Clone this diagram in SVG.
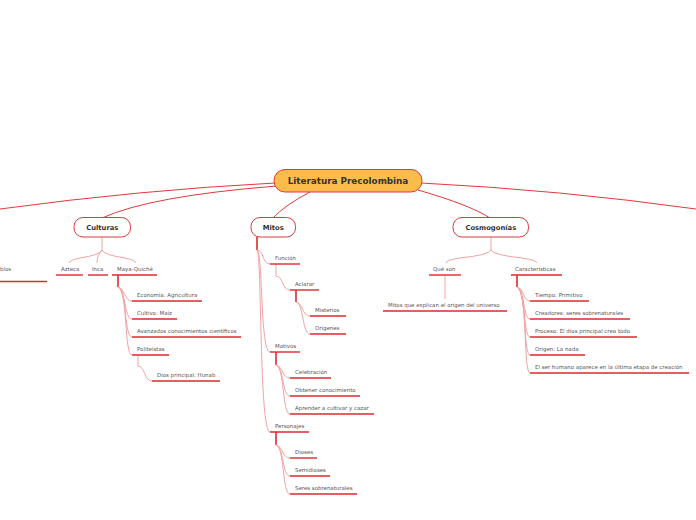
<svg xmlns="http://www.w3.org/2000/svg" width="696" height="520" viewBox="0 0 696 520">
<style>
.main{stroke:#e0393c;stroke-width:1;fill:none}
.thin{stroke:#f2a3a3;stroke-width:1;fill:none}
.bar{stroke:#dc2a2e;stroke-width:1.6;fill:none}
.ul{stroke:#dc2a2e;stroke-width:1.4}
.node{fill:#ffffff;stroke:#e0393c;stroke-width:1}
.t{font-family:"DejaVu Sans",Verdana,sans-serif;font-size:5.45px;fill:#555}
.nt{font-family:"DejaVu Sans",Verdana,sans-serif;font-size:6.8px;font-weight:bold;fill:#333;text-anchor:middle}
.ct{font-family:"DejaVu Sans",Verdana,sans-serif;font-size:8.8px;font-weight:bold;fill:#333;text-anchor:middle}
</style>
<g id="connectors">
<path class="main" d="M275,183 Q140,190 0,209"/>
<path class="main" d="M277,186 Q150,196 102,218"/>
<path class="main" d="M310,192 Q285,205 273,218"/>
<path class="main" d="M418,190 Q470,205 490,218"/>
<path class="main" d="M421,183 Q560,190 696,209"/>
<!-- Culturas -->
<path class="thin" d="M102,237 V250"/>
<path class="thin" d="M102,250 Q100,255 80,258 Q70,260 69,263"/>
<path class="thin" d="M102,250 Q97,255 97,263"/>
<path class="thin" d="M102,250 Q104,255 125,258 Q135,260 136,263"/>
<path class="bar" d="M118,275 V287"/>
<path class="thin" d="M118,287 C125,288 124,301 132,301"/>
<path class="thin" d="M118,287 C126,289 124,319 132,319"/>
<path class="thin" d="M118,287 C127,290 124,337 132,337"/>
<path class="thin" d="M118,287 C128,291 124,355 132,355"/>
<path class="thin" d="M138,355 V366 C145,366 144,381 152,381"/>
<!-- Mitos -->
<path class="bar" d="M257,237 V250"/>
<path class="thin" d="M257,250 C264,250 262,264 270,264"/>
<path class="thin" d="M257,250 C263,252 260,352 270,352"/>
<path class="thin" d="M257,250 C262,253 259,432 270,432"/>
<path class="thin" d="M276,264 V276 C283,276 282,290 290,290"/>
<path class="bar" d="M296,290 V302"/>
<path class="thin" d="M296,302 C303,303 302,316 310,316"/>
<path class="thin" d="M296,302 C304,304 302,334 310,334"/>
<path class="bar" d="M276,352 V365"/>
<path class="thin" d="M276,365 C283,366 282,378 290,378"/>
<path class="thin" d="M276,365 C284,367 282,396 290,396"/>
<path class="thin" d="M276,365 C285,368 282,414 290,414"/>
<path class="bar" d="M276,432 V445"/>
<path class="thin" d="M276,445 C283,446 282,458 290,458"/>
<path class="thin" d="M276,445 C284,447 282,476 290,476"/>
<path class="thin" d="M276,445 C285,448 282,494 290,494"/>
<!-- Cosmogonías -->
<path class="thin" d="M491,237 V250"/>
<path class="thin" d="M491,250 Q489,255 460,258 Q446,260 446,263"/>
<path class="thin" d="M491,250 Q493,255 522,258 Q536,260 537,263"/>
<path class="thin" d="M445,275 V299"/>
<path class="bar" d="M517,275 V287"/>
<path class="thin" d="M517,287 C524,288 523,301 530,301"/>
<path class="thin" d="M517,287 C525,289 523,319 530,319"/>
<path class="thin" d="M517,287 C526,290 523,337 530,337"/>
<path class="thin" d="M517,287 C527,291 523,355 530,355"/>
<path class="thin" d="M517,287 C528,292 523,373 530,373"/>
</g>
<g id="central">
<rect x="274" y="169.5" width="148" height="22.5" rx="11" fill="#fcbc4c" stroke="#e0393c" stroke-width="1"/>
<text class="ct" x="348" y="184.2">Literatura Precolombina</text>
</g>
<g id="culturas">
<rect class="node" x="74" y="217.5" width="56.5" height="19.5" rx="9"/>
<text class="nt" x="102.3" y="229.8">Culturas</text>
</g>
<g id="mitos">
<rect class="node" x="251" y="217.5" width="44.5" height="19.5" rx="9"/>
<text class="nt" x="273.3" y="229.8">Mitos</text>
</g>
<g id="cosmogonias">
<rect class="node" x="453" y="217.5" width="75.5" height="19.5" rx="9"/>
<text class="nt" x="490.8" y="229.8">Cosmogonías</text>
</g>
<g id="pueblos"><text class="t" x="0" y="271">blos</text><line class="ul" x1="0" y1="281.5" x2="47" y2="281.5"/></g>
<g id="azteca"><text class="t" x="61" y="271">Azteca</text><line class="ul" x1="56" y1="275" x2="83" y2="275"/></g>
<g id="inca"><text class="t" x="92" y="271">Inca</text><line class="ul" x1="88" y1="275" x2="108" y2="275"/></g>
<g id="maya"><text class="t" x="117" y="271">Maya-Quiché</text><line class="ul" x1="112" y1="275" x2="157" y2="275"/></g>
<g id="economia"><text class="t" x="137" y="297">Economía: Agricultura</text><line class="ul" x1="132" y1="301" x2="202" y2="301"/></g>
<g id="cultivo"><text class="t" x="137" y="315">Cultivo: Maíz</text><line class="ul" x1="132" y1="319" x2="177" y2="319"/></g>
<g id="avanzados"><text class="t" x="137" y="333">Avanzados conocimientos científicos</text><line class="ul" x1="132" y1="337" x2="241" y2="337"/></g>
<g id="politeistas"><text class="t" x="137" y="351">Politeístas</text><line class="ul" x1="132" y1="355" x2="169" y2="355"/></g>
<g id="hunab"><text class="t" x="157" y="377">Dios principal: Hunab</text><line class="ul" x1="152" y1="381" x2="220" y2="381"/></g>
<g id="funcion"><text class="t" x="275" y="260">Función</text><line class="ul" x1="270" y1="264" x2="300" y2="264"/></g>
<g id="aclarar"><text class="t" x="295" y="286">Aclarar</text><line class="ul" x1="290" y1="290" x2="319" y2="290"/></g>
<g id="misterios"><text class="t" x="315" y="312">Misterios</text><line class="ul" x1="310" y1="316" x2="346" y2="316"/></g>
<g id="origenes"><text class="t" x="315" y="330">Orígenes</text><line class="ul" x1="310" y1="334" x2="346" y2="334"/></g>
<g id="motivos"><text class="t" x="275" y="348">Motivos</text><line class="ul" x1="270" y1="352" x2="300" y2="352"/></g>
<g id="celebracion"><text class="t" x="295" y="374">Celebración</text><line class="ul" x1="290" y1="378" x2="331" y2="378"/></g>
<g id="obtener"><text class="t" x="295" y="392">Obtener conocimiento</text><line class="ul" x1="290" y1="396" x2="360" y2="396"/></g>
<g id="aprender"><text class="t" x="295" y="410">Aprender a cultivar y cazar</text><line class="ul" x1="290" y1="414" x2="374" y2="414"/></g>
<g id="personajes"><text class="t" x="275" y="428">Personajes</text><line class="ul" x1="270" y1="432" x2="309" y2="432"/></g>
<g id="dioses"><text class="t" x="295" y="454">Dioses</text><line class="ul" x1="290" y1="458" x2="317" y2="458"/></g>
<g id="semidioses"><text class="t" x="295" y="472">Semidioses</text><line class="ul" x1="290" y1="476" x2="330" y2="476"/></g>
<g id="seres"><text class="t" x="295" y="490">Seres sobrenaturales</text><line class="ul" x1="290" y1="494" x2="357" y2="494"/></g>
<g id="queson"><text class="t" x="433" y="271">Qué son</text><line class="ul" x1="429" y1="275" x2="461" y2="275"/></g>
<g id="mitosque"><text class="t" x="388" y="307">Mitos que explican el origen del universo</text><line class="ul" x1="383" y1="311" x2="507" y2="311"/></g>
<g id="caracteristicas"><text class="t" x="515" y="271">Características</text><line class="ul" x1="511" y1="275" x2="562" y2="275"/></g>
<g id="tiempo"><text class="t" x="535" y="297">Tiempo: Primitivo</text><line class="ul" x1="530" y1="301" x2="589" y2="301"/></g>
<g id="creadores"><text class="t" x="535" y="315">Creadores: seres sobrenaturales</text><line class="ul" x1="530" y1="319" x2="630" y2="319"/></g>
<g id="proceso"><text class="t" x="535" y="333">Proceso: El dios principal crea todo</text><line class="ul" x1="530" y1="337" x2="637" y2="337"/></g>
<g id="origen"><text class="t" x="535" y="351">Origen: La nada</text><line class="ul" x1="530" y1="355" x2="585" y2="355"/></g>
<g id="humano"><text class="t" x="535" y="369">El ser humano aparece en la última etapa de creación</text><line class="ul" x1="530" y1="373" x2="689" y2="373"/></g>
</svg>
